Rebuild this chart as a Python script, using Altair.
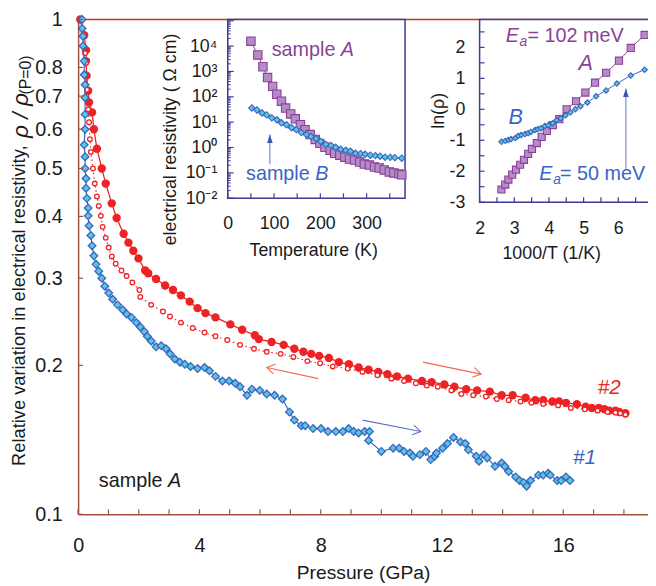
import altair as alt
import pandas as pd

FONT = "Liberation Sans"
INK = "#1a1a1a"
RED = "#ee2224"
RED_LIGHT = "#f26a50"
BLUE = "#3a64c2"
CYAN = "#5cc4dc"
PURPLE = "#8c3f98"
PURPLE_FILL = "#b48cc7"
NAVY = "#3c3c92"
BROWN = "#a0523f"
TOPRED = "#b83a2e"

W, H = 577, 501

# ---------------- main panel: pressure (GPa) vs rho/rho(P=0) ----------------
up_P = [0.07, 0.20, 0.26, 0.26, 0.28, 0.33, 0.36, 0.46, 0.52, 0.62, 0.78, 0.91, 1.11, 1.27, 1.50,
        1.66, 1.82, 1.99, 2.21, 2.31, 2.57, 2.87, 3.13, 3.39, 3.68, 3.94, 4.20, 4.53, 5.02, 5.41,
        5.83, 5.96, 6.38, 6.78, 7.13, 7.43, 7.69, 7.95, 8.27, 8.60, 8.93, 9.25, 9.58, 9.90, 10.20,
        10.52, 10.88, 11.34, 11.66, 12.08, 12.41, 12.80, 13.16, 13.58, 13.97, 14.33, 14.76, 15.08,
        15.34, 15.64, 15.86, 16.09, 16.45, 16.74, 16.94, 17.17, 17.36, 17.52, 17.72, 17.85, 18.05]
up_R = [1.00, 0.929, 0.867, 0.824, 0.770, 0.718, 0.680, 0.649, 0.600, 0.548, 0.500, 0.466, 0.425,
        0.397, 0.369, 0.354, 0.341, 0.329, 0.311, 0.307, 0.299, 0.290, 0.284, 0.277, 0.269, 0.261,
        0.255, 0.250, 0.242, 0.236, 0.230, 0.226, 0.223, 0.220, 0.216, 0.213, 0.211, 0.209, 0.207,
        0.203, 0.201, 0.198, 0.196, 0.194, 0.192, 0.190, 0.188, 0.186, 0.185, 0.183, 0.181, 0.179,
        0.178, 0.177, 0.174, 0.174, 0.172, 0.170, 0.170, 0.169, 0.169, 0.168, 0.167, 0.165, 0.164,
        0.164, 0.163, 0.162, 0.162, 0.161, 0.160]

dn_P = [0.23, 0.26, 0.29, 0.33, 0.36, 0.39, 0.42, 0.49, 0.55, 0.62, 0.68, 0.75, 0.81, 0.91, 1.01,
        1.11, 1.24, 1.43, 1.60, 1.79, 2.02, 2.05, 2.41, 2.80, 3.03, 3.39, 3.78, 4.17, 4.53, 4.92,
        5.34, 5.80, 6.22, 6.68, 7.10, 7.56, 7.98, 8.40, 8.89, 9.38, 9.87, 10.33, 10.75, 11.14,
        11.50, 11.86, 12.31, 12.64, 13.03, 13.45, 13.81, 14.20, 14.59, 14.95, 15.34, 15.83, 16.25,
        16.71, 17.13, 17.46, 17.72, 17.88, 18.05]
dn_R = [0.855, 0.817, 0.721, 0.658, 0.620, 0.573, 0.540, 0.500, 0.466, 0.439, 0.420, 0.401, 0.381,
        0.362, 0.346, 0.332, 0.321, 0.311, 0.303, 0.294, 0.284, 0.275, 0.265, 0.257, 0.251, 0.244,
        0.238, 0.233, 0.229, 0.225, 0.220, 0.216, 0.213, 0.211, 0.208, 0.204, 0.202, 0.199, 0.197,
        0.194, 0.191, 0.188, 0.186, 0.184, 0.182, 0.181, 0.178, 0.175, 0.174, 0.173, 0.171, 0.170,
        0.169, 0.168, 0.167, 0.166, 0.164, 0.163, 0.162, 0.161, 0.1605, 0.160, 0.159]

blue_P = [0.13, 0.13, 0.16, 0.16, 0.20, 0.20, 0.23, 0.23, 0.23, 0.23,
          0.20, 0.23, 0.23, 0.26, 0.26, 0.29, 0.33, 0.33, 0.36, 0.42,
          0.46, 0.52, 0.59, 0.68, 0.78, 0.88, 1.01, 1.14, 1.30, 1.47,
          1.60, 1.76, 1.92, 2.05, 2.18, 2.28, 2.41, 2.57, 2.74, 2.90,
          3.03, 3.19, 3.36, 3.52, 3.71, 3.94, 4.17, 4.33, 4.53, 4.76,
          4.98, 5.18, 5.34, 5.57, 5.73, 5.99, 6.22, 6.48, 6.74, 6.97,
          7.13, 7.36, 7.49, 7.75, 8.01, 8.24, 8.50, 8.73, 8.92, 9.09,
          9.25, 9.45, 9.61, 9.58, 10.00, 10.39, 10.59, 10.75, 10.94, 11.04,
          11.27, 11.47, 11.63, 11.76, 11.82, 12.02, 12.18, 12.38, 12.61, 12.77,
          12.87, 13.13, 13.22, 13.39, 13.49, 13.75, 13.97, 14.07, 14.20, 14.43,
          14.56, 14.69, 14.79, 14.92, 15.18, 15.34, 15.50, 15.57, 15.80, 15.93,
          16.09, 16.22]
blue_R = [1.0, 0.959, 0.925, 0.884, 0.824, 0.773, 0.738, 0.695, 0.643, 0.600,
          0.558, 0.528, 0.500, 0.477, 0.456, 0.435, 0.416, 0.401, 0.383, 0.366,
          0.349, 0.333, 0.320, 0.310, 0.300, 0.289, 0.280, 0.272, 0.265, 0.259,
          0.254, 0.250, 0.244, 0.239, 0.234, 0.229, 0.224, 0.218, 0.219, 0.216,
          0.211, 0.206, 0.203, 0.201, 0.199, 0.197, 0.198, 0.195, 0.190, 0.186,
          0.186, 0.184, 0.181, 0.174, 0.179, 0.178, 0.175, 0.174, 0.171, 0.161,
          0.155, 0.151, 0.151, 0.149, 0.149, 0.147, 0.147, 0.147, 0.149, 0.147,
          0.146, 0.147, 0.147, 0.141, 0.134, 0.136, 0.136, 0.134, 0.133, 0.131,
          0.132, 0.134, 0.129, 0.131, 0.133, 0.136, 0.139, 0.143, 0.140, 0.139,
          0.135, 0.131, 0.128, 0.132, 0.130, 0.125, 0.127, 0.125, 0.122, 0.119,
          0.117, 0.116, 0.114, 0.117, 0.120, 0.120, 0.121, 0.120, 0.117, 0.117,
          0.119, 0.117]

# main-panel arrows (pressure, ratio): start -> tip, screen angle of tip
arr_x1 = [7.92, 11.37, 9.38]
arr_y1 = [0.188, 0.203, 0.155]
arr_x2 = [6.22, 13.29, 11.30]
arr_y2 = [0.198, 0.192, 0.147]
arr_ang = [192, 12, 11]
arr_col = [RED_LIGHT, RED_LIGHT, "#5a74c4"]

# axis tick values
main_x_ticks = list(range(0, 19))
main_y_ticks = [0.1, 0.2, 0.3, 0.4, 0.5, 0.6, 0.7, 0.8, 1.0]

# ---------------- inset 1: resistivity vs temperature ----------------
A_T = [50, 65, 76, 86, 97, 106, 116, 125, 136, 146, 157, 167, 178, 189, 199, 210, 221, 231, 242,
       253, 263, 274, 285, 295, 306, 317, 327, 338, 349, 359, 370, 376]
A_rho = [15600, 4480, 1530, 575, 258, 126, 67.5, 36.1, 21.2, 13.6, 7.93, 5.07, 3.25, 2.08, 1.46,
         1.02, 0.778, 0.595, 0.499, 0.417, 0.349, 0.319, 0.267, 0.223, 0.204, 0.171, 0.156, 0.131,
         0.109, 0.100, 0.0914, 0.0836]
B_T = [52, 63, 74, 84, 95, 106, 116, 127, 138, 148, 159, 170, 180, 191, 201, 212, 223, 233, 244,
       255, 265, 276, 287, 297, 308, 319, 329, 340, 351, 361, 376]
B_rho = [36.1, 30.3, 23.1, 19.4, 14.8, 12.4, 9.48, 7.93, 6.07, 5.07, 3.88, 3.25, 2.72, 2.27, 1.74,
         1.33, 1.22, 1.02, 0.852, 0.778, 0.713, 0.595, 0.57, 0.545, 0.499, 0.48, 0.456, 0.417,
         0.41, 0.40, 0.381]
in1_arrow_T = [91]
in1_arrow_from = [0.22]
in1_arrow_to = [3.25]
in1_major = [1e-2, 1e-1, 1e0, 1e1, 1e2, 1e3, 1e4, 1e5]
in1_minor = [m * d for d in [1e-2, 1e-1, 1e0, 1e1, 1e2, 1e3, 1e4] for m in range(2, 10)]
in1_x_ticks = list(range(0, 351, 50))

# ---------------- inset 2: ln(rho) vs 1000/T ----------------
A_inv = [2.63, 2.74, 2.83, 2.94, 3.05, 3.17, 3.28, 3.40, 3.51, 3.65, 3.79, 3.94, 4.11, 4.30, 4.51,
         4.78, 5.05, 5.33, 5.65, 6.02, 6.36, 6.76]
A_ln = [-2.59, -2.43, -2.27, -2.11, -1.95, -1.79, -1.63, -1.44, -1.28, -1.09, -0.89, -0.70, -0.51,
        -0.32, 0.0, 0.26, 0.54, 0.86, 1.18, 1.57, 1.98, 2.40]
B_inv = [2.63, 2.74, 2.83, 2.91, 3.03, 3.11, 3.20, 3.31, 3.40, 3.48, 3.60, 3.68, 3.77, 3.88, 3.99,
         4.11, 4.22, 4.34, 4.48, 4.62, 4.76, 4.91, 5.11, 5.36, 5.65, 5.96, 6.36, 6.76]
B_ln = [-1.05, -1.02, -0.99, -0.96, -0.93, -0.86, -0.83, -0.80, -0.77, -0.73, -0.67, -0.64, -0.61,
        -0.54, -0.51, -0.45, -0.35, -0.29, -0.19, -0.10, 0.0, 0.10, 0.22, 0.42, 0.61, 0.83, 1.09,
        1.28]
in2_arrow_x = [6.22]
in2_arrow_from = [-1.92]
in2_arrow_to = [0.67]
in2_x_ticks = [v / 2 for v in range(4, 15)]
in2_y_ticks = [v / 2 for v in range(-6, 6)]

# ---------------------------------------------------------------------------
one = pd.DataFrame({"k": [0]})
CHEVRON = "M-1.6,-1L0,0L-1.6,1"
HEAD_UP = "M0,0L-0.6,1.8L0.6,1.8Z"


def label(text, x, y, size, color=INK, italic=False, angle=0, align="left", baseline="middle"):
    return alt.Chart(one).mark_text(
        text=text, font=FONT, fontSize=size, color=color,
        fontStyle="italic" if italic else "normal", angle=angle, align=align, baseline=baseline,
    ).encode(x=alt.value(x), y=alt.value(y))


def axis(**kw):
    base = dict(grid=False, ticks=False, labelFont=FONT, labelFontSize=18, labelColor=INK,
                labelFlush=False, labelOverlap=False, titleFont=FONT, titleFontSize=18,
                titleFontWeight="normal", titleColor=INK)
    base.update(kw)
    return alt.Axis(**base)


def xticks(values, xenc, y0, length, color):
    return alt.Chart(pd.DataFrame({"t": values})).mark_rule(color=color, strokeWidth=1.2).encode(
        x=xenc, y=alt.value(y0), y2=alt.value(y0 - length))


def yticks(values, yenc, x0, length, color, width=1.2):
    return alt.Chart(pd.DataFrame({"t": values})).mark_rule(color=color, strokeWidth=width).encode(
        y=yenc, x=alt.value(x0), x2=alt.value(x0 + length))


# ---------------- main layer ----------------
mx = alt.Scale(domain=[0, W / 30.7], nice=False, zero=False)
my = alt.Scale(type="log", domain=[0.1, 1.0], nice=False)

ax_x = axis(values=main_x_ticks,
            labelExpr="datum.value % 4 == 0 ? '' + datum.value : ''",
            labelFontSize=20, domainColor=BROWN, domainWidth=1.5, labelPadding=22,
            title="Pressure (GPa)", titleFontSize=19.5, titleBaseline="middle", titleY=59)
ax_y = axis(values=main_y_ticks, labelExpr="'' + datum.value", labelFontSize=20,
            domainColor=BROWN, domainWidth=1.5, labelPadding=16, title="")

df_up = pd.DataFrame({"P": up_P, "R": up_R})
df_dn = pd.DataFrame({"P": dn_P, "R": dn_R})
df_bl = pd.DataFrame({"P": blue_P, "R": blue_R, "i": list(range(len(blue_P)))})
df_arr = pd.DataFrame({"x1": arr_x1, "y1": arr_y1, "x2": arr_x2, "y2": arr_y2,
                       "ang": arr_ang, "col": arr_col})


def X(f="P:Q"):
    return alt.X(f, scale=mx, axis=ax_x)


def Y(f="R:Q"):
    return alt.Y(f, scale=my, axis=ax_y)


top_rule = alt.Chart(one).mark_rule(color=TOPRED, strokeWidth=1.5).encode(
    x=alt.value(0), x2=alt.value(W + 20), y=alt.value(0))

up_line = alt.Chart(df_up).mark_line(color=RED, strokeWidth=1.3).encode(x=X(), y=Y())
up_pts = alt.Chart(df_up).mark_circle(size=72, color=RED, opacity=1).encode(x=X(), y=Y())
dn_line = alt.Chart(df_dn).mark_line(color=RED, strokeWidth=1.2, strokeDash=[1.5, 3]).encode(
    x=X(), y=Y())
dn_pts = alt.Chart(df_dn).mark_point(shape="circle", filled=False, size=22, strokeWidth=1.3,
                                     color=RED, fill="white", opacity=1).encode(x=X(), y=Y())
bl_line = alt.Chart(df_bl).mark_line(color=BLUE, strokeWidth=1.2).encode(
    x=X(), y=Y(), order="i:Q")
bl_pts = alt.Chart(df_bl).mark_point(shape="diamond", filled=True, size=60, fill=CYAN, stroke=BLUE,
                                     strokeWidth=1.3, opacity=1).encode(x=X(), y=Y())

arr_shafts = alt.Chart(df_arr).mark_rule(strokeWidth=1.1).encode(
    x=X("x1:Q"), y=Y("y1:Q"), x2="x2:Q", y2="y2:Q", color=alt.Color("col:N", scale=None))
arr_heads = alt.Chart(df_arr).mark_point(shape=CHEVRON, filled=False, size=100, strokeWidth=1.1,
                                         opacity=1).encode(
    x=X("x2:Q"), y=Y("y2:Q"), angle=alt.Angle("ang:Q", scale=None),
    color=alt.Color("col:N", scale=None))

main_ticks = [
    xticks(main_x_ticks, X("t:Q"), H, 5, BROWN),
    yticks(main_y_ticks, Y("t:Q"), 0, 5, BROWN),
]

main_texts = [
    label("Relative variation in electrical resistivity,", -60, 452, 18.5, angle=270),
    label("ρ / ρ", -58, 120, 23, italic=True, angle=270),
    label("(P=0)", -53, 76, 16, angle=270),
    label("sample ", 21, 467, 20),
    label("A", 91, 467, 20, italic=True),
    label("#2", 526, 373, 21, color=RED, italic=True),
    label("#1", 501, 444, 21, color=BLUE, italic=True),
]

main = alt.layer(top_rule, up_line, up_pts, dn_line, dn_pts, bl_line, bl_pts, arr_shafts,
                 arr_heads, *main_ticks, *main_texts)

# ---------------- inset 1 ----------------
IN1_X0, IN1_X1, IN1_Y1 = 151.5, 331, 181
ix1 = alt.Scale(domain=[0, 383], range=[IN1_X0, IN1_X1], nice=False, zero=False)
iy1 = alt.Scale(type="log", domain=[0.01, 1.12e5], range=[IN1_Y1, 0], nice=False)

ax1_y = axis(orient="left", offset=-IN1_X0, values=in1_major[:-1],
             labelExpr="['10⁻²','10⁻¹','10⁰','10¹','10²','10³','10⁴'][round(log(datum.value)/LN10) + 2]",
             domain=False, labelPadding=11,
             title="electrical resistivity ( Ω cm)", titleAngle=270,
             titleBaseline="middle", titleX=-58, titleY=121)
ax1_x = axis(orient="bottom", offset=-(H - IN1_Y1), values=in1_x_ticks,
             labelExpr="datum.value % 100 == 0 ? '' + datum.value : ''",
             domain=False, labelPadding=17,
             title="Temperature (K)", titleBaseline="middle", titleX=238, titleY=53)

frame1 = alt.Chart(one).mark_rect(fill="white", stroke=NAVY, strokeWidth=1.5).encode(
    x=alt.value(IN1_X0), x2=alt.value(IN1_X1), y=alt.value(0), y2=alt.value(IN1_Y1))
dfA = pd.DataFrame({"T": A_T, "rho": A_rho})
dfB = pd.DataFrame({"T": B_T, "rho": B_rho})


def X1(f="T:Q"):
    return alt.X(f, scale=ix1, axis=ax1_x)


def Y1(f="rho:Q"):
    return alt.Y(f, scale=iy1, axis=ax1_y)


A1_line = alt.Chart(dfA).mark_line(color=PURPLE, strokeWidth=1).encode(x=X1(), y=Y1())
A1_pts = alt.Chart(dfA).mark_point(shape="square", filled=True, size=72, fill=PURPLE_FILL,
                                   stroke=PURPLE, strokeWidth=1.1, opacity=1).encode(x=X1(), y=Y1())
B1_line = alt.Chart(dfB).mark_line(color=BLUE, strokeWidth=1).encode(x=X1(), y=Y1())
B1_pts = alt.Chart(dfB).mark_point(shape="diamond", filled=True, size=42, fill=CYAN, stroke=BLUE,
                                   strokeWidth=1.1, opacity=1).encode(x=X1(), y=Y1())
dfa1 = pd.DataFrame({"T": in1_arrow_T, "a": in1_arrow_from, "b": in1_arrow_to})
a1_shaft = alt.Chart(dfa1).mark_rule(color="#5a74c4", strokeWidth=1).encode(
    x=X1(), y=Y1("a:Q"), y2="b:Q")
a1_head = alt.Chart(dfa1).mark_point(shape=HEAD_UP, filled=True, size=90, color="#3a58b0",
                                     opacity=1).encode(x=X1(), y=Y1("b:Q"))
in1_ticks = [
    yticks(in1_major, Y1("t:Q"), IN1_X0, 6, NAVY, 1.2),
    yticks(in1_minor, Y1("t:Q"), IN1_X0, 3, NAVY, 1),
    xticks(in1_x_ticks, X1("t:Q"), IN1_Y1, 5, NAVY),
]
inset1 = alt.layer(
    frame1, A1_line, A1_pts, B1_line, B1_pts, a1_shaft, a1_head, *in1_ticks,
    label("sample ", 196, 31, 20, color=PURPLE), label("A", 266, 31, 20, color=PURPLE, italic=True),
    label("sample ", 170, 157, 20, color=BLUE), label("B", 240, 157, 20, color=BLUE, italic=True),
)

# ---------------- inset 2 ----------------
IN2_X0, IN2_Y1 = 406.5, 185
ix2 = alt.Scale(domain=[2, 7], range=[IN2_X0, IN2_X0 + 5 * 35.1], nice=False, zero=False)
iy2 = alt.Scale(domain=[-3, 2.9], range=[IN2_Y1, 0], nice=False, zero=False)
ax2_y = axis(orient="left", offset=-IN2_X0, values=[-3, -2, -1, 0, 1, 2],
             labelExpr="'' + datum.value", domain=False, labelPadding=15,
             title="ln(ρ)", titleAngle=270, titleBaseline="middle", titleX=-42, titleY=92)
ax2_x = axis(orient="bottom", offset=-(H - IN2_Y1), values=[2, 3, 4, 5, 6],
             labelExpr="'' + datum.value", domain=False, labelPadding=18,
             title="1000/T (1/K)", titleBaseline="middle", titleX=479, titleY=52)

frame2 = alt.Chart(one).mark_rect(fill="white", stroke=NAVY, strokeWidth=1.5).encode(
    x=alt.value(IN2_X0), x2=alt.value(W + 60), y=alt.value(0), y2=alt.value(IN2_Y1))
dfA2 = pd.DataFrame({"v": A_inv, "ln": A_ln})
dfB2 = pd.DataFrame({"v": B_inv, "ln": B_ln})


def X2(f="v:Q"):
    return alt.X(f, scale=ix2, axis=ax2_x)


def Y2(f="ln:Q"):
    return alt.Y(f, scale=iy2, axis=ax2_y)


A2_line = alt.Chart(dfA2).mark_line(color=PURPLE, strokeWidth=1).encode(x=X2(), y=Y2())
A2_pts = alt.Chart(dfA2).mark_point(shape="square", filled=True, size=52, fill=PURPLE_FILL,
                                    stroke=PURPLE, strokeWidth=1.1, opacity=1).encode(x=X2(), y=Y2())
B2_line = alt.Chart(dfB2).mark_line(color=BLUE, strokeWidth=1).encode(x=X2(), y=Y2())
B2_pts = alt.Chart(dfB2).mark_point(shape="diamond", filled=True, size=30, fill=CYAN, stroke=BLUE,
                                    strokeWidth=1.1, opacity=1).encode(x=X2(), y=Y2())
dfa2 = pd.DataFrame({"v": in2_arrow_x, "a": in2_arrow_from, "b": in2_arrow_to})
a2_shaft = alt.Chart(dfa2).mark_rule(color="#5a74c4", strokeWidth=1).encode(
    x=X2(), y=Y2("a:Q"), y2="b:Q")
a2_head = alt.Chart(dfa2).mark_point(shape=HEAD_UP, filled=True, size=90, color="#3a58b0",
                                     opacity=1).encode(x=X2(), y=Y2("b:Q"))
in2_ticks = [
    yticks(in2_y_ticks, Y2("t:Q"), IN2_X0, 5, NAVY),
    xticks(in2_x_ticks, X2("t:Q"), IN2_Y1, 5, NAVY),
]
inset2 = alt.layer(
    frame2, A2_line, A2_pts, B2_line, B2_pts, a2_shaft, a2_head, *in2_ticks,
    label("E", 433, 17, 20, color=PURPLE, italic=True),
    label("a", 447, 23, 14, color=PURPLE, italic=True),
    label("= 102 meV", 455, 17, 20, color=PURPLE),
    label("A", 514, 44, 22, color=PURPLE, italic=True, align="center"),
    label("B", 443, 99, 22, color=BLUE, italic=True, align="center"),
    label("E", 467, 157, 20, color=BLUE, italic=True),
    label("a", 481, 163, 14, color=BLUE, italic=True),
    label("= 50 meV", 488, 157, 20, color=BLUE),
)

chart = alt.layer(main, inset1, inset2).resolve_scale(
    x="independent", y="independent"
).properties(
    width=W, height=H,
    autosize=alt.AutoSizeParams(type="none"),
    padding={"left": 71, "top": 8, "right": 0, "bottom": 72},
    background="white",
).configure_view(stroke=None)

chart.save("out.html", embed_options={"renderer": "svg", "actions": False})
